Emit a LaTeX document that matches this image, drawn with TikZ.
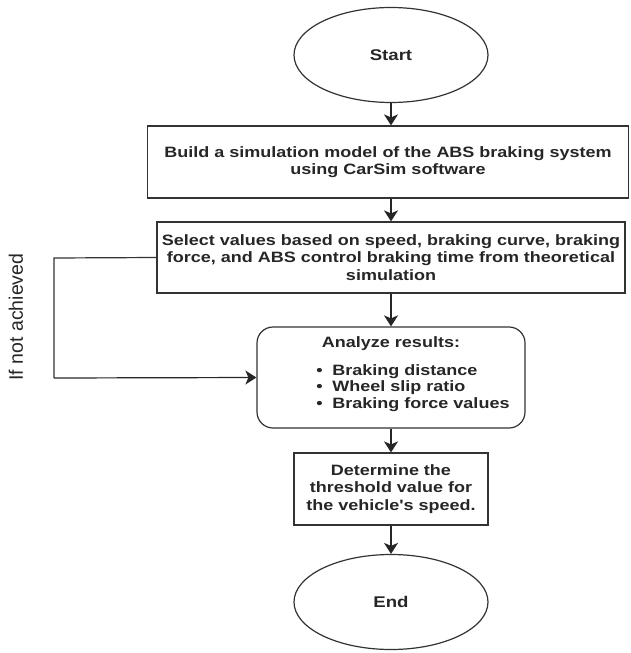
\documentclass[tikz,border=0pt]{standalone}
\usepackage{fontspec}
\setmainfont{Liberation Sans}
\newfontfamily\boxfont[FakeStretch=1.2]{Liberation Sans}
\usetikzlibrary{shapes.geometric,arrows.meta}

\begin{document}
\begin{tikzpicture}[
    x=1pt, y=-1pt,
    oval/.style={ellipse, draw=black!80, line width=1.2pt, inner sep=0pt, minimum width=194pt, minimum height=95pt, font=\boxfont\bfseries\fontsize{15.5}{18}\selectfont, text=black!85},
    stepbox/.style={rectangle, draw=black!80, line width=1.2pt, inner sep=0pt, align=center, font=\boxfont\bfseries\fontsize{15}{17.5}\selectfont, text=black!85},
    resultbox/.style={stepbox, rounded corners=16pt},
    arrow/.style={-{Stealth[length=11pt, width=14pt, inset=3pt]}, draw=black!85, line width=1.2pt}
]
\useasboundingbox (0,0) rectangle (630,653);

% Start and build model
\node[oval] (start) at (391,55) {Start};
\node[stepbox, minimum width=481pt, minimum height=72pt] (build) at (388,162)
    {Build a simulation model of the ABS braking system\\using CarSim software};

% Select values
\node[stepbox, minimum width=468pt, minimum height=71pt] (select) at (391,257.5)
    {Select values based on speed, braking curve, braking\\force, and ABS control braking time from theoretical\\simulation};

% Analyze results
\node[resultbox, minimum width=268pt, minimum height=101pt] (analyze) at (391,377.5)
    {\raisebox{5pt}[11pt][0pt]{Analyze results:}\\[9pt]
     \begin{tabular}{@{\hspace{44pt}}l@{}}
     \makebox[16pt][l]{\textbullet}Braking distance\\[-1pt]
     \makebox[16pt][l]{\textbullet}Wheel slip ratio\\[-1pt]
     \makebox[16pt][l]{\textbullet}Braking force values
     \end{tabular}};

% Threshold and end
\node[stepbox, minimum width=194pt, minimum height=72pt] (threshold) at (391,489)
    {Determine the\\threshold value for\\the vehicle's speed.};
\node[oval] (finish) at (391,602) {End};

\draw[arrow] (start) -- (start |- build.north);
\draw[arrow] (start |- build.south) -- (select);
\draw[arrow] (select) -- (analyze);
\draw[arrow] (analyze) -- (threshold);
\draw[arrow] (threshold) -- (finish);

% Feedback loop
\coordinate (loopTop) at (54,258);
\coordinate (loopBottom) at (54,378);
\draw[draw=black!80, line width=1.2pt] (select.west) -- (loopTop) -- (loopBottom);
\draw[arrow] (loopBottom) -- (analyze.west);
\node[rotate=90, font=\fontsize{19.5}{21}\selectfont, text=black!85] (fail) at (16,317) {If not achieved};

\end{tikzpicture}
\end{document}
